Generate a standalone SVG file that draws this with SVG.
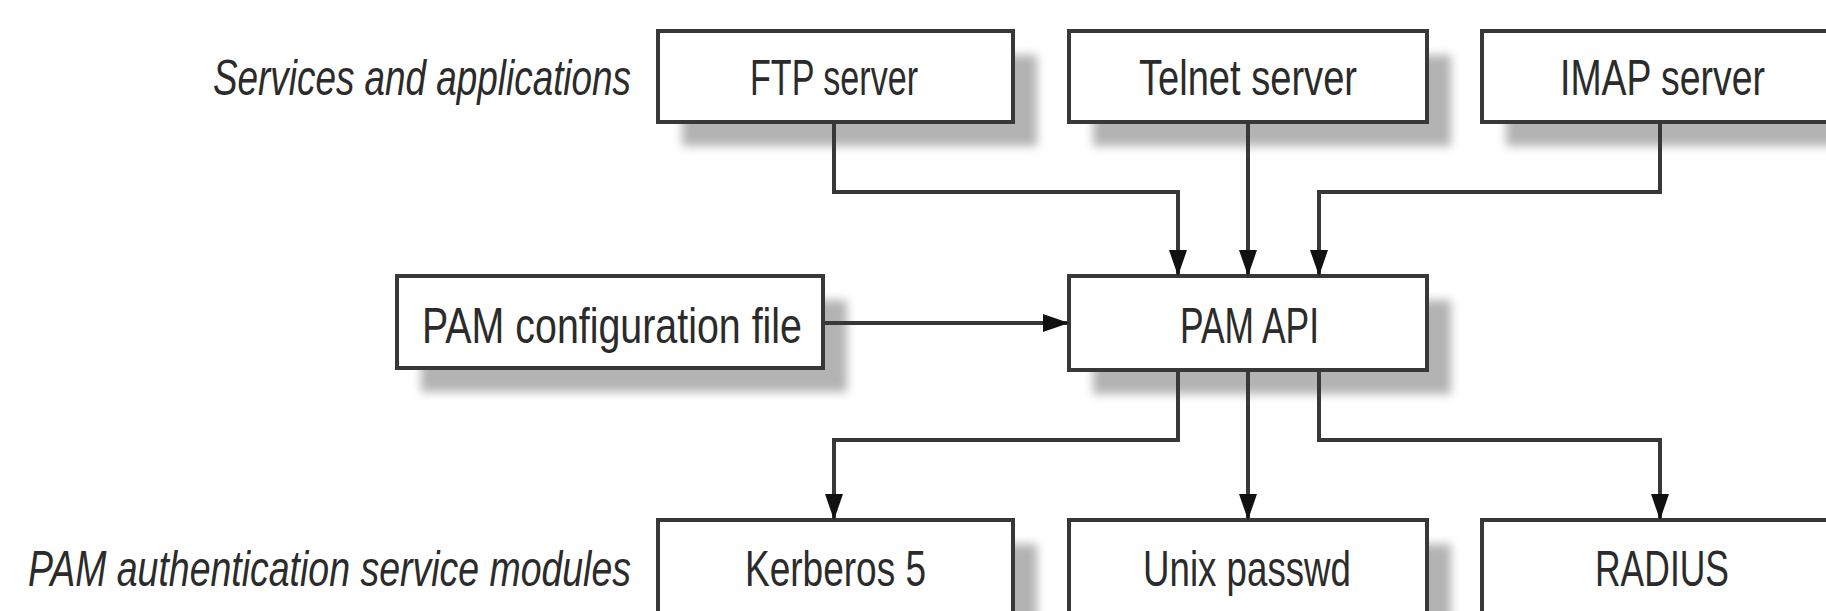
<svg xmlns="http://www.w3.org/2000/svg" width="1826" height="611" viewBox="0 0 1826 611">
<style>
.box{fill:#ffffff;stroke:#383838;stroke-width:4}
.shadow{fill:#b3b3b3;filter:url(#blur)}
.t{font-family:"Liberation Sans",Arial,sans-serif;font-size:50px;fill:#2b2b2b;text-anchor:start}
.lbl{font-family:"Liberation Sans",Arial,sans-serif;font-size:50px;font-style:italic;fill:#2b2b2b}
.c{fill:none;stroke:#383838;stroke-width:4;marker-end:url(#arr)}
</style>
<defs>
<filter id="blur" x="-20%" y="-40%" width="140%" height="180%"><feGaussianBlur stdDeviation="5"/></filter>
<marker id="arr" viewBox="0 0 26 18" refX="26" refY="9" markerWidth="26" markerHeight="18" markerUnits="userSpaceOnUse" orient="auto"><path d="M0,0 L26,9 L0,18 z" fill="#111"/></marker>
</defs>
<text class="lbl" x="213" y="95" textLength="418" lengthAdjust="spacingAndGlyphs">Services and applications</text>
<text class="lbl" x="28" y="586" textLength="603" lengthAdjust="spacingAndGlyphs">PAM authentication service modules</text>
<g id="ftp"><rect class="shadow" x="682" y="55" width="355" height="91"/><rect class="box" x="658" y="31" width="355" height="91"/><text class="t" x="750" y="95" textLength="168" lengthAdjust="spacingAndGlyphs">FTP server</text></g>
<g id="telnet"><rect class="shadow" x="1093" y="55" width="358" height="91"/><rect class="box" x="1069" y="31" width="358" height="91"/><text class="t" x="1139" y="95" textLength="218" lengthAdjust="spacingAndGlyphs">Telnet server</text></g>
<g id="imap"><rect class="shadow" x="1506" y="55" width="358" height="91"/><rect class="box" x="1482" y="31" width="358" height="91"/><text class="t" x="1560" y="95" textLength="205" lengthAdjust="spacingAndGlyphs">IMAP server</text></g>
<g id="pamconf"><rect class="shadow" x="421" y="300" width="426" height="92"/><rect class="box" x="397" y="276" width="426" height="92"/><text class="t" x="422" y="343" textLength="380" lengthAdjust="spacingAndGlyphs">PAM configuration file</text></g>
<g id="pamapi"><rect class="shadow" x="1093" y="300" width="358" height="94"/><rect class="box" x="1069" y="276" width="358" height="94"/><text class="t" x="1180" y="343" textLength="139" lengthAdjust="spacingAndGlyphs">PAM API</text></g>
<g id="kerberos"><rect class="shadow" x="682" y="544" width="355" height="94"/><rect class="box" x="658" y="520" width="355" height="94"/><text class="t" x="745" y="586" textLength="181" lengthAdjust="spacingAndGlyphs">Kerberos 5</text></g>
<g id="unix"><rect class="shadow" x="1093" y="544" width="358" height="94"/><rect class="box" x="1069" y="520" width="358" height="94"/><text class="t" x="1143" y="586" textLength="208" lengthAdjust="spacingAndGlyphs">Unix passwd</text></g>
<g id="radius"><rect class="shadow" x="1506" y="544" width="358" height="94"/><rect class="box" x="1482" y="520" width="358" height="94"/><text class="t" x="1595" y="586" textLength="134" lengthAdjust="spacingAndGlyphs">RADIUS</text></g>
<g id="connectors">
<path class="c" d="M834,122 V192 H1178 V276"/>
<path class="c" d="M1248,122 V276"/>
<path class="c" d="M1660,122 V192 H1319 V276"/>
<path class="c" d="M823,323 H1069"/>
<path class="c" d="M1178,370 V440 H834 V520"/>
<path class="c" d="M1248,370 V520"/>
<path class="c" d="M1319,370 V440 H1660 V520"/>
</g>
</svg>
